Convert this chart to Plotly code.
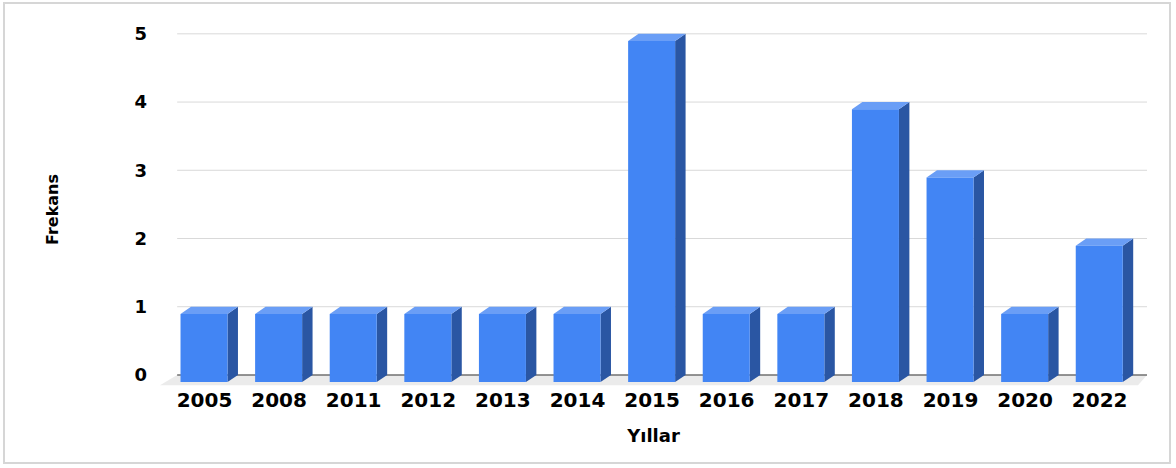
import plotly.graph_objects as go

# ---- data ----
years = ["2005", "2008", "2011", "2012", "2013", "2014", "2015",
         "2016", "2017", "2018", "2019", "2020", "2022"]
counts = [1, 1, 1, 1, 1, 1, 5, 1, 1, 4, 3, 1, 2]
y_ticks = [0, 1, 2, 3, 4, 5]
x_title = "Yıllar"
y_title = "Frekans"

# ---- styling / geometry (3D look) ----
FRONT = "#4285F4"
SIDE = "#2A56A3"
TOP = "#6A9EF6"
FLOOR = "#EBEBEB"
GRID = "#D9D9D9"
ZERO = "#707070"
W = 0.63       # bar width in category units
DX = 0.14      # depth offset (x, category units)
DY = 0.105     # depth offset (y, value units)
FDX_L = 0.23   # floor depth offsets
FDX_R = 0.12
FDY = 0.15

n = len(years)
x_lo, x_hi = -0.5, n - 0.5

fx, fy, sx, sy, tx, ty = [], [], [], [], [], []
for i, v in enumerate(counts):
    b0, b1 = i - W / 2, i + W / 2
    f0, f1 = b0 - DX, b1 - DX
    fx += [f0, f1, f1, f0, f0, None]
    fy += [-DY, -DY, v - DY, v - DY, -DY, None]
    sx += [f1, b1, b1, f1, f1, None]
    sy += [-DY, 0, v, v - DY, -DY, None]
    tx += [f0, f1, b1, b0, f0, None]
    ty += [v - DY, v - DY, v, v, v - DY, None]

# gridlines on the back plane (from the tick values)
gx, gy = [], []
for t in y_ticks:
    if t == 0:
        continue
    gx += [x_lo, x_hi, None]
    gy += [t, t, None]

fig = go.Figure()
fig.add_trace(go.Scatter(x=gx, y=gy, mode="lines", line=dict(color=GRID, width=1),
                         hoverinfo="skip", showlegend=False))
fig.add_trace(go.Scatter(
    x=[x_lo, x_hi, x_hi - FDX_R, x_lo - FDX_L, x_lo],
    y=[0, 0, -FDY, -FDY, 0],
    fill="toself", fillcolor=FLOOR, mode="none",
    hoverinfo="skip", showlegend=False))
fig.add_trace(go.Scatter(x=[x_lo, x_hi], y=[0, 0], mode="lines",
                         line=dict(color=ZERO, width=1.5),
                         hoverinfo="skip", showlegend=False))
for xs, ys, col in [(sx, sy, SIDE), (tx, ty, TOP), (fx, fy, FRONT)]:
    fig.add_trace(go.Scatter(x=xs, y=ys, fill="toself", fillcolor=col,
                             mode="none", hoverinfo="skip", showlegend=False))

fig.update_layout(
    width=1176, height=468,
    margin=dict(l=160, r=29, t=27, b=76),
    paper_bgcolor="white", plot_bgcolor="white",
    xaxis=dict(
        range=[x_lo - FDX_L, x_hi],
        tickmode="array", tickvals=list(range(n)), ticktext=years,
        showgrid=False, zeroline=False, showline=False, ticks="",
        tickfont=dict(family="DejaVu Sans", size=20, color="#000", weight="bold"),
        ticklabelshift=-10, ticklabelstandoff=-6,
        title=dict(text=x_title, standoff=18,
                   font=dict(family="DejaVu Sans", size=18, color="#000", weight="bold")),
    ),
    yaxis=dict(
        range=[-0.25, 5.1],
        tickmode="array", tickvals=y_ticks,
        showgrid=False, zeroline=False, showline=False, ticks="",
        tickfont=dict(family="DejaVu Sans", size=18, color="#000", weight="bold"),
        ticklabelstandoff=12,
        title=dict(text=y_title, standoff=71,
                   font=dict(family="DejaVu Sans", size=16, color="#000", weight="bold")),
    ),
    shapes=[dict(type="rect", xref="paper", yref="paper",
                 x0=-156 / 987, x1=1 + 23 / 987, y0=-71 / 365, y1=1 + 24 / 365,
                 line=dict(color="#D6D6D6", width=2), layer="below")],
)

fig.write_html("out.html", config={"displayModeBar": False},
               post_script="document.body.style.margin='0';document.body.style.overflow='hidden';")
